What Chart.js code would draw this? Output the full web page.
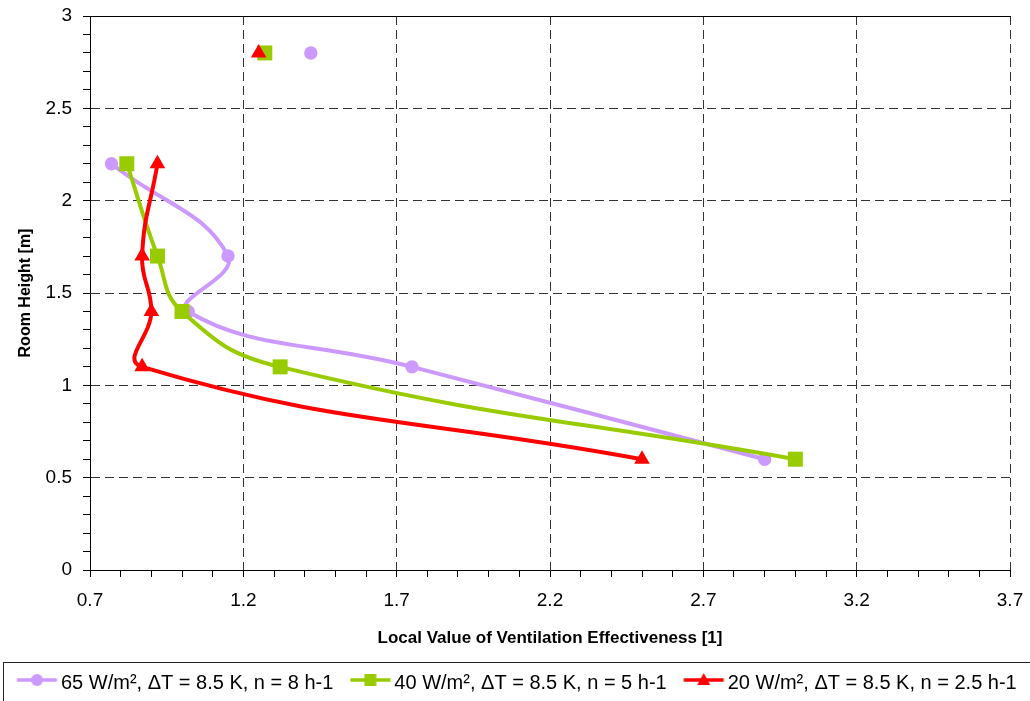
<!DOCTYPE html>
<html>
<head>
<meta charset="utf-8">
<script src="https://cdn.jsdelivr.net/npm/chart.js@4.4.1/dist/chart.umd.min.js"></script>
<style>
  html, body { margin: 0; padding: 0; background: #ffffff; overflow: hidden; }
  #wrap { position: relative; width: 1030px; height: 703px; }
</style>
</head>
<body>
<div id="wrap"><canvas id="c"></canvas></div>
<script>
// ---- data ----
const heights = [2.8, 2.2, 1.7, 1.4, 1.1, 0.6];           // room height [m]
const eff65 = [1.42, 0.77, 1.15, 1.02, 1.75, 2.90];        // 65 W/m²
const eff40 = [1.27, 0.82, 0.92, 1.00, 1.32, 3.00];        // 40 W/m²
const eff20 = [1.25, 0.92, 0.87, 0.90, 0.87, 2.50];        // 20 W/m²
const seriesLabels = [
  '65 W/m², ΔT = 8.5 K, n = 8 h-1',
  '40 W/m², ΔT = 8.5 K, n = 5 h-1',
  '20 W/m², ΔT = 8.5 K, n = 2.5 h-1'
];
const seriesColors = ['#CC99FF', '#99CC00', '#FF0000'];
const seriesStyles = ['circle', 'rect', 'triangle'];
const seriesRadii = [6.7, 10.6, 9];
const xTickValues = [0.7, 1.2, 1.7, 2.2, 2.7, 3.2, 3.7];
const xTickLabels = ['0.7', '1.2', '1.7', '2.2', '2.7', '3.2', '3.7'];
const yTickValues = [0, 0.5, 1, 1.5, 2, 2.5, 3];
const yTickLabels = ['0', '0.5', '1', '1.5', '2', '2.5', '3'];
const xTitle = 'Local Value of Ventilation Effectiveness [1]';
const yTitle = 'Room Height [m]';

const FONT = "'Liberation Sans', Arial, Helvetica, sans-serif";
const allSeries = [eff65, eff40, eff20];

function pts(vals, from, to) {
  const out = [];
  for (let i = from; i < to; i++) out.push({x: vals[i], y: heights[i]});
  return out;
}
function labelFor(values, labels, v) {
  for (let i = 0; i < values.length; i++) if (Math.abs(values[i] - v) < 1e-6) return labels[i];
  return '';
}
function isMajor(values, v) {
  return values.some(t => Math.abs(t - v) < 1e-6);
}

// legend marker images (line + marker)
function legendImage(i) {
  const c = document.createElement('canvas');
  c.width = 80; c.height = 24;
  const g = c.getContext('2d');
  const x0 = 31.5, x1 = 71.5, cy = 9;
  g.strokeStyle = seriesColors[i];
  g.lineWidth = 3.5;
  g.beginPath(); g.moveTo(x0, cy); g.lineTo(x1, cy); g.stroke();
  g.fillStyle = seriesColors[i];
  const cx = (x0 + x1) / 2;
  g.beginPath();
  if (i === 0) { g.arc(cx, cy, 6, 0, Math.PI * 2); }
  else if (i === 1) { g.rect(cx - 6, cy - 6, 12, 12); }
  else { g.moveTo(cx, cy - 7); g.lineTo(cx + 6.5, cy + 5); g.lineTo(cx - 6.5, cy + 5); g.closePath(); }
  g.fill();
  return c;
}
const legendImages = [0, 1, 2].map(legendImage);

const datasets = [];
for (let s = 0; s < 3; s++) {
  datasets.push({
    label: seriesLabels[s],
    data: pts(allSeries[s], 1, heights.length),
    showLine: true,
    borderColor: seriesColors[s],
    backgroundColor: seriesColors[s],
    borderWidth: 4,
    tension: 0.45,
    pointStyle: seriesStyles[s],
    pointRadius: seriesRadii[s],
    pointBorderWidth: 0,
    pointBackgroundColor: seriesColors[s],
    order: 3 - s
  });
}
for (let s = 0; s < 3; s++) {
  datasets.push({
    label: seriesLabels[s] + ' (top)',
    data: pts(allSeries[s], 0, 1),
    showLine: false,
    borderColor: seriesColors[s],
    backgroundColor: seriesColors[s],
    pointStyle: seriesStyles[s],
    pointRadius: seriesRadii[s],
    pointBorderWidth: 0,
    pointBackgroundColor: seriesColors[s],
    order: 3 - s
  });
}

const legendBox = {
  id: 'legendBox',
  afterDraw(chart) {
    const ctx = chart.ctx;
    ctx.save();
    ctx.strokeStyle = '#222';
    ctx.lineWidth = 1;
    ctx.strokeRect(3.5, 662.5, 1100, 100);
    ctx.restore();
  }
};

const gridDash = [9, 5];

new Chart(document.getElementById('c'), {
  type: 'scatter',
  data: { datasets },
  plugins: [legendBox],
  options: {
    responsive: true,
    maintainAspectRatio: false,
    animation: false,
    layout: { padding: { top: 16, left: 0, right: 0, bottom: 0 } },
    plugins: {
      tooltip: { enabled: false },
      legend: {
        position: 'bottom',
        align: 'start',
        labels: {
          usePointStyle: true,
          pointStyleWidth: 51,
          padding: 0,
          color: '#000',
          font: { family: FONT, size: 20 },
          generateLabels(chart) {
            const items = Chart.defaults.plugins.legend.labels.generateLabels(chart);
            return items
              .filter(it => it.datasetIndex < 3)
              .sort((a, b) => a.datasetIndex - b.datasetIndex)
              .map(it => {
                it.pointStyle = legendImages[it.datasetIndex];
                return it;
              });
          }
        }
      }
    },
    scales: {
      x: {
        type: 'linear',
        position: 'bottom',
        min: 0.7, max: 3.7,
        border: { display: true, color: '#000', width: 1, dash: gridDash },
        grid: {
          color: ctx => isMajor(xTickValues, ctx.tick.value) ? '#333' : 'rgba(0,0,0,0)',
          lineWidth: 1,
          drawTicks: true,
          tickLength: 7,
          tickColor: '#000',
          tickWidth: 1,
          tickBorderDash: []
        },
        ticks: {
          stepSize: 0.1,
          precision: 1,
          maxTicksLimit: 100,
          autoSkip: false,
          maxRotation: 0,
          padding: 12,
          color: '#000',
          font: { family: FONT, size: 19 },
          callback: v => labelFor(xTickValues, xTickLabels, v)
        },
        title: {
          display: true,
          text: xTitle,
          color: '#000',
          font: { family: FONT, size: 17, weight: 'bold' },
          padding: { top: 0, bottom: 24 }
        },
        afterFit(scale) {
          scale.height = 103;
          scale.paddingLeft = 0;
          scale.paddingRight = 20;
        }
      },
      x2: {
        type: 'linear',
        position: 'top',
        min: 0.7, max: 3.7,
        display: true,
        border: { display: true, color: '#000', width: 1 },
        grid: { display: false, drawTicks: false, drawOnChartArea: false },
        ticks: { display: false },
        afterFit(scale) {
          scale.height = 0;
          scale.paddingLeft = 0;
          scale.paddingRight = 0;
        }
      },
      y: {
        type: 'linear',
        position: 'left',
        min: 0, max: 3,
        border: { display: true, color: '#000', width: 1, dash: gridDash },
        grid: {
          color: ctx => isMajor(yTickValues, ctx.tick.value) ? '#333' : 'rgba(0,0,0,0)',
          lineWidth: 1,
          drawTicks: true,
          tickLength: 7,
          tickColor: '#000',
          tickWidth: 1,
          tickBorderDash: []
        },
        ticks: {
          stepSize: 0.1,
          precision: 1,
          maxTicksLimit: 100,
          autoSkip: false,
          padding: 11,
          color: '#000',
          font: { family: FONT, size: 19 },
          callback: v => labelFor(yTickValues, yTickLabels, v)
        },
        title: {
          display: true,
          text: yTitle,
          color: '#000',
          font: { family: FONT, size: 16, weight: 'bold' },
          padding: { top: 16, bottom: 0 }
        },
        afterFit(scale) {
          scale.width = 90;
          scale.paddingTop = 0;
          scale.paddingBottom = 0;
        }
      }
    }
  }
});
</script>
</body>
</html>
